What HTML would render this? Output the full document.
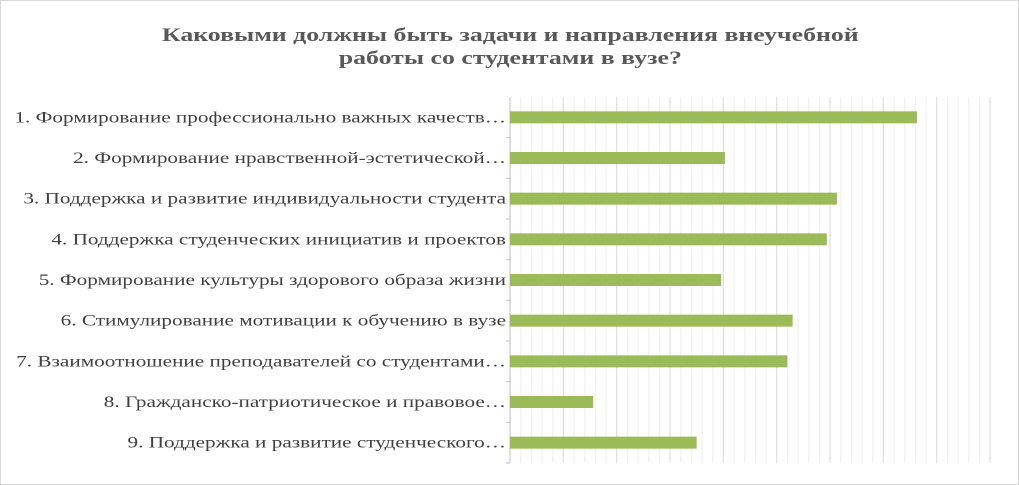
<!DOCTYPE html>
<html><head><meta charset="utf-8"><style>
body{margin:0;background:#fff}
#c{position:relative;width:1017px;height:483px;border:1px solid #d9d9d9;font-family:"Liberation Serif",serif;overflow:hidden}
.t{position:absolute;left:0;width:1019px;text-align:center;font-weight:bold;font-size:19px;color:#595959;line-height:23px;transform:scaleX(1.36);transform-origin:510px 0}
</style></head><body>
<div id="c">
<div class="t" style="top:23px">Каковыми должны быть задачи и направления внеучебной<br>работы со студентами в вузе?</div>
<svg id="s" width="1019" height="485" style="position:absolute;left:-1px;top:-1px"></svg>
</div>
<script>
const categories=["1. Формирование профессионально важных качеств…","2. Формирование нравственной-эстетической…","3. Поддержка и развитие индивидуальности студента","4. Поддержка студенческих инициатив и проектов","5. Формирование культуры здорового образа жизни","6. Стимулирование мотивации к обучению в вузе","7. Взаимоотношение преподавателей со студентами…","8. Гражданско-патриотическое и правовое…","9. Поддержка и развитие студенческого…"];
const values=[76.3,40.3,61.3,59.4,39.6,53,52,15.6,35];
const xMax=90, majorStep=10, minorStep=2;
const X0=510,X1=990,Y0=97,Y1=463;
const s=document.getElementById('s');const NS='http://www.w3.org/2000/svg';
const x=v=>X0+v/xMax*(X1-X0);
const band=(Y1-Y0)/categories.length;
function mk(t,a){const e=document.createElementNS(NS,t);for(const k in a)e.setAttribute(k,a[k]);s.appendChild(e);return e;}
for(let v=minorStep;v<=xMax+0.001;v+=minorStep){
 const major=Math.abs(v/majorStep-Math.round(v/majorStep))<1e-6;
 const l=mk('line',{x1:x(v),x2:x(v),y1:Y0,y2:Y1,stroke:major?'#d9d9d9':'#efefef','stroke-width':1});
 
 
}
const ax=mk('line',{x1:X0,x2:X0,y1:Y0,y2:Y1,stroke:'#bfbfbf'});


categories.forEach((c,i)=>{
 const cy=Y0+band*(i+0.5);
 const r=mk('rect',{x:X0,y:cy-6,width:x(values[i])-X0,height:12,fill:'#9bbb59'});
 
 
 const t=mk('text',{x:0,y:0,transform:'translate('+(X0-4)+','+(cy+5)+') scale(1.37,1)','text-anchor':'end','font-size':15.5,fill:'#404040','font-family':'Liberation Serif, serif'});
 t.textContent=c;
 
 
 const tk=mk('line',{x1:X0-4,x2:X0,y1:Y0+band*(i+1),y2:Y0+band*(i+1),stroke:'#bfbfbf'});
 
 
});
</script>
</body></html>
